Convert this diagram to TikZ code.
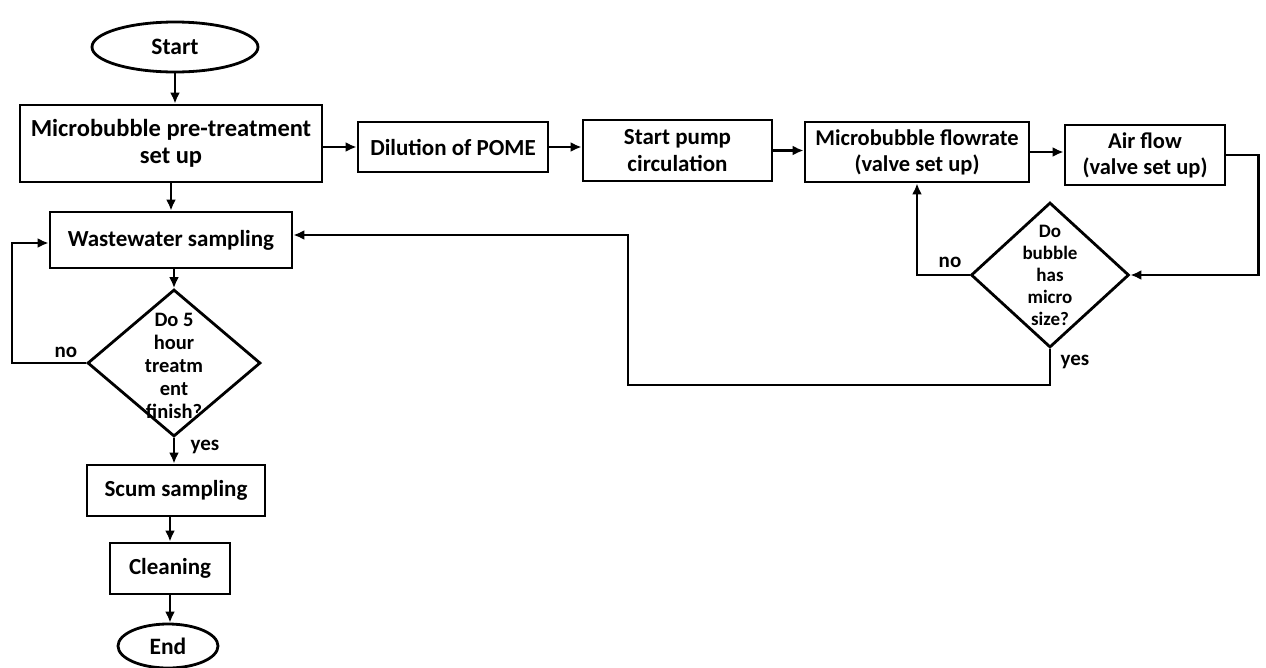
\documentclass[tikz,border=0pt]{standalone}
\usepackage{fontspec}
\setmainfont{Carlito}
\usetikzlibrary{arrows.meta,shapes.geometric}
\tikzset{
  box/.style={draw, line width=2.8pt, rectangle, inner sep=0pt, align=center, font=\bfseries\fontsize{23}{27}\selectfont},
  term/.style={draw, line width=2.8pt, ellipse, inner sep=0pt, font=\bfseries\fontsize{23.5}{27}\selectfont},
  dec/.style={draw, line width=2.8pt, diamond, inner sep=0pt},
  dectext/.style={align=center, inner sep=0pt},
  lbl/.style={inner sep=0pt, font=\bfseries\fontsize{21}{24}\selectfont},
  arr/.style={line width=2.8pt, -{Latex[length=11pt,width=10pt]}},
  ln/.style={line width=2.8pt}
}
\begin{document}
\begin{tikzpicture}[x=1pt,y=-1pt]
\useasboundingbox (0,0) rectangle (1266,667);
\node[term, minimum width=166, minimum height=50] (start) at (175,47) {Start};
\node[box, minimum width=302, minimum height=77, font=\bfseries\fontsize{24.5}{27}\selectfont] (pre) at (171,143.5) {Microbubble pre-treatment\\set up};
\node[box, minimum width=190, minimum height=50] (dil) at (453,147) {Dilution of POME};
\node[box, minimum width=189, minimum height=61] (pump) at (677.5,150.5) {Start pump\\circulation};
\node[box, minimum width=224, minimum height=60, font=\bfseries\fontsize{22.5}{26}\selectfont] (mb) at (917,152) {Microbubble flowrate\\(valve set up)};
\node[box, minimum width=160, minimum height=60, font=\bfseries\fontsize{22.5}{26}\selectfont] (air) at (1145,155) {Air flow\\(valve set up)};
\node[box, minimum width=242, minimum height=56] (ww) at (171,240) {Wastewater sampling};
\node[dec, minimum width=173, minimum height=147] (d1) at (174,363) {};
\node[dectext, font=\bfseries\fontsize{20.5}{23}\selectfont] (d1t) at (174,366) {Do 5\\hour\\treatm\\ent\\finish?};
\node[dec, minimum width=158, minimum height=145] (d2) at (1050,275) {};
\node[dectext, font=\bfseries\fontsize{19}{22}\selectfont] (d2t) at (1050,275) {Do\\bubble\\has\\micro\\size?};
\node[box, minimum width=178, minimum height=51] (scum) at (176,490.5) {Scum sampling};
\node[box, minimum width=120, minimum height=51] (clean) at (170,568.5) {Cleaning};
\node[term, minimum width=100, minimum height=44] (end) at (168,646) {End};
\node[lbl] (no1) at (66,352) {no};
\node[lbl] (yes1) at (205,447) {yes};
\node[lbl] (no2) at (950,262) {no};
\node[lbl] (yes2) at (1075,362) {yes};
\coordinate (lc) at (12,300);
\coordinate (yc) at (628,385);
\draw[arr] (start.south) -- (start.south |- pre.north);
\draw[arr] (pre.east |- dil.west) -- (dil.west);
\draw[arr] (dil.east) -- (dil.east -| pump.west);
\draw[arr] (pump.east) -- (pump.east -| mb.west);
\draw[arr] (mb.east) -- (mb.east -| air.west);
\draw[arr] (air.east) -- ++(32,0) |- (d2.east);
\draw[arr] (d2.west) -| (mb.south);
\draw[arr] (d2.south) |- (yc) |- ([yshift=5pt]ww.east);
\draw[arr] (pre.south) -- (pre.south |- ww.north);
\draw[arr] (ww.south -| d1.north) -- (d1.north);
\draw[arr] (d1.west) -| (lc) |- ([yshift=-3pt]ww.west);
\draw[arr] (d1.south) -- (d1.south |- scum.north);
\draw[arr] (clean.north |- scum.south) -- (clean.north);
\draw[arr] (clean.south) -- (clean.south |- end.north);
\end{tikzpicture}
\end{document}
